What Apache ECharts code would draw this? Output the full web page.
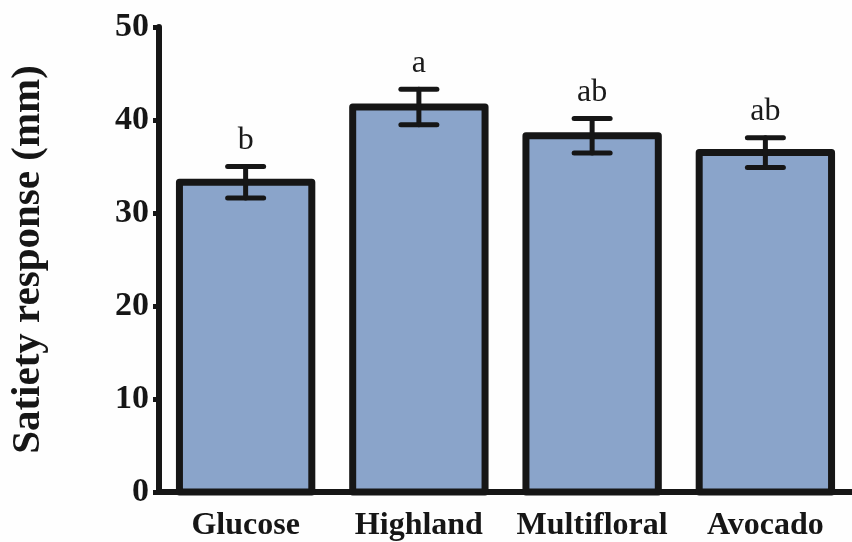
<!DOCTYPE html>
<html>
<head>
<meta charset="utf-8">
<script src="https://cdn.jsdelivr.net/npm/echarts@6/dist/echarts.min.js"></script>
<style>
html,body{margin:0;padding:0;background:#fefefe;}
#chart{width:852px;height:542px;}
</style>
</head>
<body>
<div id="chart"></div>
<script>
var categories = ['Glucose', 'Highland', 'Multifloral', 'Avocado'];
var means = [33.3, 41.4, 38.3, 36.5];
var errors = [1.7, 1.9, 1.85, 1.6];
var letters = ['b', 'a', 'ab', 'ab'];
var yTicks = [0, 10, 20, 30, 40, 50];

var INK = '#161616';
var SERIF = '"Liberation Serif", "Times New Roman", serif';

var chart = echarts.init(document.getElementById('chart'), null, {renderer: 'canvas'});

var barData = categories.map(function (c, i) { return [i, means[i]]; });
var errData = categories.map(function (c, i) {
  return [i, means[i] - errors[i], means[i] + errors[i], letters[i]];
});

chart.setOption({
  backgroundColor: '#fefefe',
  animation: false,
  grid: {left: 155.5, width: 707, top: 27, bottom: 46, containLabel: false},
  xAxis: {
    type: 'category',
    data: categories,
    axisLine: {lineStyle: {color: INK, width: 6}},
    axisTick: {alignWithLabel: true, length: 9, lineStyle: {color: INK, width: 5}},
    axisLabel: {
      interval: 0,
      margin: 18,
      color: INK,
      fontFamily: SERIF,
      fontWeight: 'bold',
      fontSize: 32
    },
    splitLine: {show: false}
  },
  yAxis: {
    type: 'value',
    min: yTicks[0],
    max: yTicks[yTicks.length - 1],
    interval: 10,
    name: 'Satiety response (mm)',
    nameLocation: 'middle',
    nameRotate: 90,
    nameGap: 110,
    nameTextStyle: {
      color: INK,
      fontFamily: SERIF,
      fontWeight: 'bold',
      fontSize: 41
    },
    axisLine: {show: true, lineStyle: {color: INK, width: 6, cap: 'round'}},
    axisTick: {show: true, inside: false, length: 6, lineStyle: {color: INK, width: 5}},
    axisLabel: {
      margin: 10,
      color: INK,
      fontFamily: SERIF,
      fontWeight: 'bold',
      fontSize: 34
    },
    splitLine: {show: false}
  },
  series: [
    {
      type: 'custom',
      data: barData,
      z: 2,
      renderItem: function (params, api) {
        var x = api.value(0);
        var top = api.coord([x, api.value(1)]);
        var base = api.coord([x, 0]);
        var w = api.size([1, 0])[0] * 0.764;
        return {
          type: 'rect',
          shape: {x: top[0] - w / 2, y: top[1], width: w, height: base[1] - top[1]},
          style: {fill: '#8aa4ca', stroke: INK, lineWidth: 7, lineJoin: 'round'}
        };
      }
    },
    {
      type: 'custom',
      data: errData,
      z: 5,
      renderItem: function (params, api) {
        var x = api.value(0);
        var lo = api.coord([x, api.value(1)]);
        var hi = api.coord([x, api.value(2)]);
        var half = 18;
        var st = {stroke: INK, lineWidth: 5, lineCap: 'round'};
        return {
          type: 'group',
          children: [
            {type: 'line', shape: {x1: hi[0], y1: hi[1], x2: lo[0], y2: lo[1]}, style: st},
            {type: 'line', shape: {x1: hi[0] - half, y1: hi[1], x2: hi[0] + half, y2: hi[1]}, style: st},
            {type: 'line', shape: {x1: lo[0] - half, y1: lo[1], x2: lo[0] + half, y2: lo[1]}, style: st},
            {
              type: 'text',
              x: hi[0],
              y: hi[1] - 10,
              style: {
                text: api.value(3),
                fill: '#1a1a1a',
                font: 'normal 32px ' + SERIF,
                align: 'center',
                verticalAlign: 'bottom'
              }
            }
          ]
        };
      }
    }
  ]
});
</script>
</body>
</html>
